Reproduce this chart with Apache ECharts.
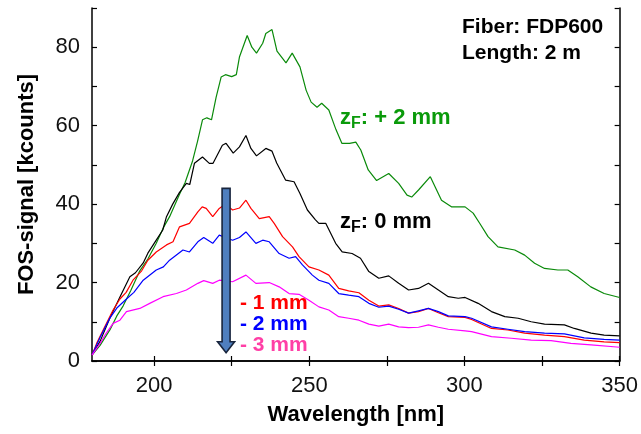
<!DOCTYPE html>
<html>
<head>
<meta charset="utf-8">
<script src="https://cdn.jsdelivr.net/npm/echarts@6/dist/echarts.min.js"></script>
<style>
  html, body { margin: 0; padding: 0; background: #fff; }
  #chart { width: 641px; height: 434px; }
</style>
</head>
<body>
<div id="chart"></div>
<script>
// wavelength [nm], FOS-signal [kcounts]
var zPlus2 = [[180,1.5],[182.6,4],[185.8,8],[188,11.5],[190,14],[192.5,18],[195.4,23],[198,26],[200.7,30],[203,34],[205,36.8],[208.2,42.5],[210,45.5],[212.4,51],[214,56],[215.6,61.5],[217,62],[218.5,61.5],[220,67.3],[221.6,72.4],[223,73],[225,72.5],[226.5,73],[227.5,77.5],[230,83],[231.5,80],[233,78.5],[235,81],[236,83.5],[238,84.5],[239.6,79],[242.5,76],[244.5,78.5],[247,75],[249,69],[250.6,66],[252.5,64.7],[254,65.7],[256.3,64],[258.6,59],[260.5,55.5],[263,55.5],[265,55.8],[266.6,53.8],[269,48.7],[271.7,46],[275.6,47.8],[278.8,45.3],[281.5,42.3],[283,41.8],[285.2,43.6],[289,47],[292.6,41],[295.8,39.3],[300.2,39.3],[302.8,37.7],[305,35],[307.6,31.7],[310.8,29.1],[316.2,28.3],[319.4,27],[322.6,24.9],[325.8,23.6],[330.1,23.2],[333.3,23.2],[336.5,21.5],[340.7,18.9],[345,17.2],[350,16.2]];
var z0 = [[180,1.5],[182.6,5],[185.8,11],[189,16.3],[192.2,21.5],[194,22.5],[196.5,25],[198,27.5],[200.7,30.8],[202.8,33.4],[204,36.8],[206,40],[208.2,43],[210.4,45.3],[211.5,45],[213,50.4],[215.6,52],[217.8,50.4],[219,50.4],[222,55],[223.2,55.5],[225.5,53],[227.5,54.6],[229.6,57.5],[231.2,54.2],[233,52.3],[236,54.2],[238,53.5],[239.5,50.5],[242.4,46.1],[245.1,45.7],[247,42.7],[249.4,38.5],[252,36],[253.1,35.1],[255.3,35.1],[258.5,30],[260.6,27.8],[263.8,27.4],[266.5,26.2],[269.2,22.8],[272.4,21.1],[275.6,21.7],[278.8,19.8],[282,18.1],[285.2,18.5],[288.4,19.8],[291.6,18.1],[294.8,16.4],[298,16],[300.2,16.2],[304.4,14.7],[308.7,12.6],[313,11.3],[317.3,10.9],[321.5,10],[325.8,9.4],[332.2,9.2],[335.4,8.3],[340.8,7.1],[345,6.6],[350,6.4]];
var zMinus1 = [[180,1.5],[181.5,4.5],[183.6,7.9],[186.8,13],[189,15.8],[191,17.5],[193.2,20.6],[196,23],[198,25.7],[200.7,27.8],[204,29.6],[206.1,30.4],[208.2,34.2],[211.4,35.1],[214.1,38],[215.5,39.3],[216.8,38.9],[218.9,36.8],[221,38.9],[223,40],[225.3,38.5],[227.5,39],[229.6,41],[231.2,38.9],[233.9,36.3],[237.1,36.8],[238.7,35.1],[241.4,31.7],[244.6,29.1],[246.7,26.6],[249.9,24],[253.1,23.2],[256.3,21.9],[259.5,18.5],[262.7,17.9],[266,17.4],[269.2,15.5],[272.4,14],[275.6,14.3],[278.8,13.4],[282,12.2],[285.2,12.6],[288.4,13.4],[291.6,12.3],[294.8,11.3],[300.2,11.1],[302.3,10.6],[308.7,8.3],[314,7.9],[319.4,7.1],[325.8,6.6],[332.2,6.2],[338.6,5.3],[345,4.9],[350,4.7]];
var zMinus2 = [[180,1.5],[182.6,6],[185.8,11],[188,13.5],[191.1,15.8],[193.5,17.5],[196.5,20.6],[200.7,23.2],[203,24],[205,25.7],[209.3,28.3],[211.4,27.8],[214.1,30.4],[216,31.5],[218.9,30],[221,32.1],[225.3,30.8],[227.5,31.5],[229.6,32.9],[232.8,30],[235,30.8],[237.1,30.4],[240.3,27.4],[243.5,26.2],[245.6,26.6],[247.8,24.5],[251,21.9],[253.1,20.6],[256.3,19.8],[259.5,17.2],[262.7,16.8],[266,16.4],[269.2,14.7],[272.4,13.7],[275.6,14],[278.8,13.2],[282,12.2],[285.2,12.8],[288.4,13.4],[291.6,12.6],[294.8,11.5],[300.2,11.3],[302.3,10.9],[308.7,8.7],[314,8.1],[319.4,7.5],[325.8,7.1],[332.2,6.9],[338.6,5.9],[345,5.5],[350,5.3]];
var zMinus3 = [[180,1.5],[182.6,4.5],[184.5,7],[186.8,9.6],[189,10.4],[191.1,12.6],[195.4,13.4],[198.6,14.7],[202.9,16.4],[207.2,17.2],[210.4,18.1],[214.1,19.8],[216,20.5],[218.9,19.8],[221,20.6],[225.3,20.2],[229.6,21.9],[232.8,19.8],[237.1,20],[240.3,18.9],[243.5,17.2],[246.7,17],[249.9,15.5],[253.1,13.8],[256.3,13],[259.5,11.3],[262.7,10.9],[266,10.4],[269.2,9.4],[272.4,8.9],[275.6,9.4],[278.8,8.7],[282,8.5],[285.2,8.6],[288.4,9.2],[291.6,8.6],[294.8,8.1],[300.2,7.7],[302.3,7.5],[308.7,6.2],[315.1,5.8],[321.5,5.3],[327.9,5.2],[334.3,4.5],[340.8,4.1],[350,3.5]];

var xTicks = [200, 225, 250, 275, 300, 325, 350];
var xLabels = [200, 250, 300, 350];
// arrow: wavelength, top, tip
var arrowData = [[223.2, 44, 2.1]];

var font = 'Arial, "Liberation Sans", sans-serif';
var chart = echarts.init(document.getElementById('chart'));

function lineSeries(name, data, color) {
    return {
        name: name,
        type: 'line',
        data: data,
        showSymbol: false,
        animation: false,
        lineStyle: {color: color, width: 1.2},
        z: 3
    };
}

var frameAxis = {
    axisLine: {show: true, lineStyle: {color: '#000', width: 1.5}},
    splitLine: {show: false}
};

chart.setOption({
    backgroundColor: '#fff',
    animation: false,
    grid: {left: 92, right: 19, top: 8, bottom: 73},
    xAxis: [{
        type: 'value', min: 180, max: 350, position: 'bottom',
        axisLine: frameAxis.axisLine, splitLine: frameAxis.splitLine,
        axisTick: {inside: true, length: 5, customValues: xTicks, lineStyle: {color: '#000', width: 1.2}},
        axisLabel: {customValues: xLabels, margin: 14, fontSize: 22, color: '#111', fontFamily: font},
        name: 'Wavelength [nm]', nameLocation: 'middle', nameGap: 43,
        nameTextStyle: {fontSize: 22, fontWeight: 'bold', color: '#000', fontFamily: font}
    }, {
        type: 'value', min: 180, max: 350, position: 'top',
        axisLine: frameAxis.axisLine, splitLine: frameAxis.splitLine,
        axisTick: {inside: true, length: 5, customValues: xTicks, lineStyle: {color: '#000', width: 1.2}},
        axisLabel: {show: false}
    }],
    yAxis: [{
        type: 'value', min: 0, max: 90, interval: 10, position: 'left',
        axisLine: frameAxis.axisLine, splitLine: frameAxis.splitLine,
        axisTick: {inside: true, length: 5, lineStyle: {color: '#000', width: 1.2}},
        axisLabel: {
            margin: 12, fontSize: 22, color: '#111', fontFamily: font,
            formatter: function(v) { return v % 20 === 0 ? String(v) : ''; }
        },
        name: 'FOS-signal [kcounts]', nameLocation: 'middle', nameGap: 54,
        nameTextStyle: {fontSize: 22, fontWeight: 'bold', color: '#000', fontFamily: font}
    }, {
        type: 'value', min: 0, max: 90, interval: 10, position: 'right',
        axisLine: frameAxis.axisLine, splitLine: frameAxis.splitLine,
        axisTick: {inside: true, length: 5, lineStyle: {color: '#000', width: 1.2}},
        axisLabel: {show: false}
    }],
    series: [
        lineSeries('+2 mm', zPlus2, '#0a8a0a'),
        lineSeries('0 mm', z0, '#000000'),
        lineSeries('-1 mm', zMinus1, '#ff0000'),
        lineSeries('-2 mm', zMinus2, '#0000ff'),
        lineSeries('-3 mm', zMinus3, '#ff00ff'),
        {
            type: 'custom',
            data: arrowData,
            z: 10,
            renderItem: function(params, api) {
                var top = api.coord([api.value(0), api.value(1)]);
                var tip = api.coord([api.value(0), api.value(2)]);
                var x = top[0], hw = 4, hh = 8.5, headLen = 11;
                var yb = tip[1] - headLen;
                return {
                    type: 'polygon',
                    shape: {points: [
                        [x - hw, top[1]], [x + hw, top[1]], [x + hw, yb], [x + hh, yb],
                        [x, tip[1]], [x - hh, yb], [x - hw, yb]
                    ]},
                    style: {fill: '#4f7fbf', stroke: '#18253d', lineWidth: 1.6}
                };
            }
        }
    ],
    graphic: [
        {type: 'text', left: 462, top: 17, z: 20,
         style: {text: 'Fiber: FDP600', font: 'bold 21px ' + font, fill: '#000'}},
        {type: 'text', left: 462, top: 43, z: 20,
         style: {text: 'Length: 2 m', font: 'bold 21px ' + font, fill: '#000'}},
        {type: 'text', left: 340, top: 107, z: 20,
         style: {
             text: '{z|z}{s|F}{z|: + 2 mm}',
             fill: '#0a9a0a',
             rich: {
                 z: {font: 'bold 22px ' + font, fill: '#0a9a0a'},
                 s: {font: 'bold 16px ' + font, fill: '#0a9a0a', padding: [11, 0, 0, 0]}
             }
         }},
        {type: 'text', left: 340, top: 211, z: 20,
         style: {
             text: '{z|z}{s|F}{z|: 0 mm}',
             fill: '#000',
             rich: {
                 z: {font: 'bold 22px ' + font, fill: '#000'},
                 s: {font: 'bold 16px ' + font, fill: '#000', padding: [11, 0, 0, 0]}
             }
         }},
        {type: 'text', left: 240, top: 293, z: 20,
         style: {text: '- 1 mm', font: 'bold 21px ' + font, fill: '#ff0000'}},
        {type: 'text', left: 240, top: 314, z: 20,
         style: {text: '- 2 mm', font: 'bold 21px ' + font, fill: '#0000ff'}},
        {type: 'text', left: 240, top: 335, z: 20,
         style: {text: '- 3 mm', font: 'bold 21px ' + font, fill: '#ff3fa6'}}
    ]
});
</script>
</body>
</html>
